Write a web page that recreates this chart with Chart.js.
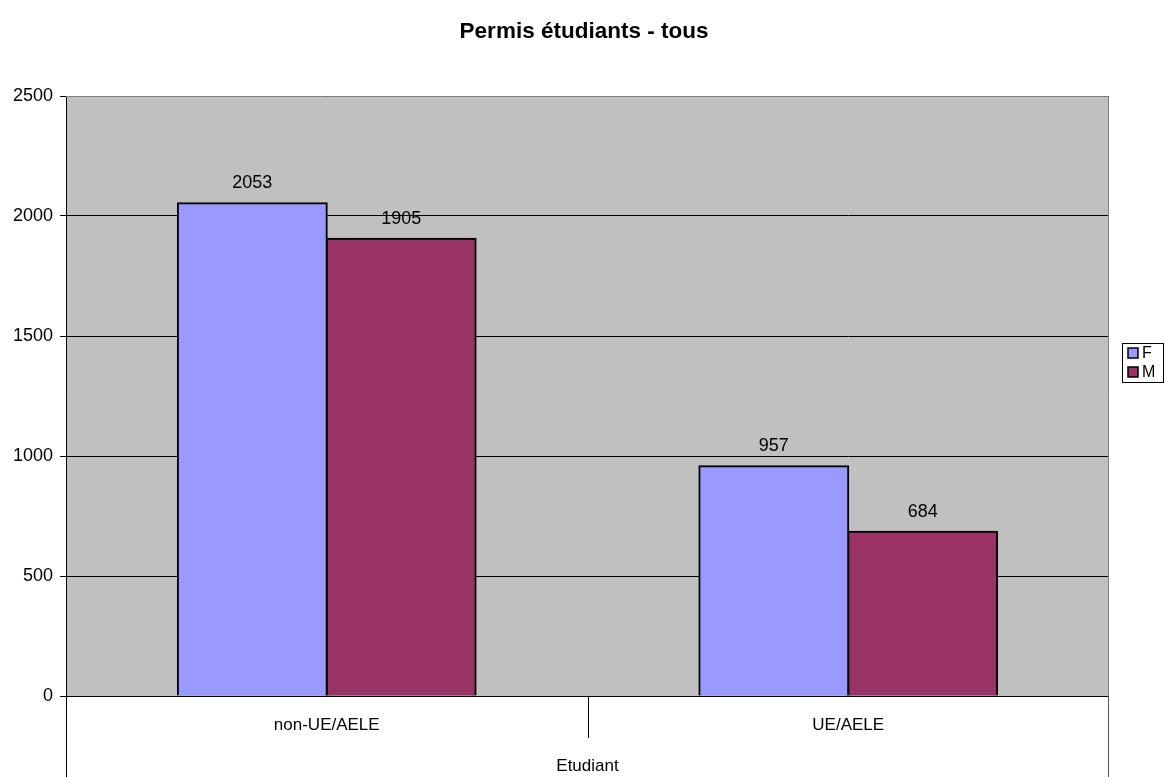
<!DOCTYPE html>
<html><head><meta charset="utf-8">
<script src="https://cdn.jsdelivr.net/npm/chart.js@4/dist/chart.umd.min.js"></script>
<style>html,body{margin:0;padding:0;background:#fff}#wrap{width:1166px;height:777px}</style>
</head><body><div id="wrap"><canvas id="c" width="1166" height="777"></canvas></div>
<script>
const title = 'Permis étudiants - tous';
const groupLabel = 'Etudiant';
const categories = ['non-UE/AELE', 'UE/AELE'];
const seriesF = [2053, 957];
const seriesM = [1905, 684];
const seriesNames = ['F', 'M'];
const yTicks = [0, 500, 1000, 1500, 2000, 2500];

const FONT = '"Liberation Sans", Arial, sans-serif';

const custom = {
  id: 'custom',
  beforeDraw(chart) {
    const {ctx, chartArea: a} = chart;
    ctx.save();
    ctx.fillStyle = '#C0C0C0';
    ctx.fillRect(a.left, a.top, a.right - a.left, a.bottom - a.top);
    ctx.restore();
  },
  afterDraw(chart) {
    const {ctx, chartArea: a} = chart;
    const x = chart.scales.x;
    ctx.save();
    ctx.strokeStyle = '#808080';
    ctx.lineWidth = 1;
    ctx.beginPath();
    ctx.moveTo(a.left, a.top + 0.5); ctx.lineTo(a.right - 0.5, a.top + 0.5);
    ctx.lineTo(a.right - 0.5, a.bottom);
    ctx.stroke();
    ctx.strokeStyle = '#000';
    ctx.beginPath();
    ctx.moveTo(a.left, a.bottom + 0.5); ctx.lineTo(a.right, a.bottom + 0.5);
    ctx.stroke();
    ctx.beginPath();
    ctx.moveTo(a.left + 0.5, a.bottom); ctx.lineTo(a.left + 0.5, 777);
    ctx.stroke();
    ctx.strokeStyle = '#555';
    ctx.beginPath();
    ctx.moveTo(a.right - 0.5, a.bottom); ctx.lineTo(a.right - 0.5, 777);
    ctx.stroke();
    ctx.strokeStyle = '#000';
    for (let i = 1; i < categories.length; i++) {
      const px = Math.round((x.getPixelForValue(i - 1) + x.getPixelForValue(i)) / 2) + 0.5;
      ctx.beginPath();
      ctx.moveTo(px, a.bottom); ctx.lineTo(px, a.bottom + 42);
      ctx.stroke();
    }
    ctx.fillStyle = '#000';
    ctx.font = '17px ' + FONT;
    ctx.textAlign = 'center';
    ctx.textBaseline = 'middle';
    categories.forEach((c, i) => ctx.fillText(c, x.getPixelForValue(i), a.bottom + 29));
    ctx.fillText(groupLabel, (a.left + a.right) / 2, 766);
    ctx.font = '18px ' + FONT;
    chart.data.datasets.forEach((ds, di) => {
      const meta = chart.getDatasetMeta(di);
      meta.data.forEach((bar, i) => {
        ctx.fillText(String(ds.data[i]), bar.x, bar.y - 20);
      });
    });
    ctx.font = 'bold 22.5px ' + FONT;
    ctx.fillText(title, 584, 32);
    const lx = 1122, ly = 343, lw = 41, lh = 39;
    ctx.strokeStyle = '#000';
    ctx.fillStyle = '#fff';
    ctx.fillRect(lx, ly, lw, lh);
    ctx.strokeRect(lx + 0.5, ly + 0.5, lw, lh);
    ctx.font = '16px ' + FONT;
    ctx.textAlign = 'left';
    chart.data.datasets.forEach((ds, di) => {
      const cy = ly + 10 + di * 19;
      ctx.fillStyle = ds.backgroundColor;
      ctx.fillRect(lx + 6, cy - 5, 10, 10);
      ctx.lineWidth = 1.5;
      ctx.strokeRect(lx + 6, cy - 5, 10, 10);
      ctx.fillStyle = '#000';
      ctx.fillText(ds.label, lx + 20, cy + 1);
    });
    ctx.restore();
  }
};

new Chart(document.getElementById('c'), {
  type: 'bar',
  data: {
    labels: categories,
    datasets: [
      {label: seriesNames[0], data: seriesF, backgroundColor: '#9999FF', borderColor: '#000', borderWidth: 2, inflateAmount: 1},
      {label: seriesNames[1], data: seriesM, backgroundColor: '#993366', borderColor: '#000', borderWidth: 2, inflateAmount: 1}
    ]
  },
  options: {
    responsive: false,
    animation: false,
    layout: {padding: {top: 96, right: 57, left: 0, bottom: 0}},
    plugins: {legend: {display: false}, title: {display: false}, tooltip: {enabled: false}},
    datasets: {bar: {barPercentage: 1, categoryPercentage: 0.571}},
    scales: {
      x: {
        grid: {display: false, drawTicks: false},
        border: {display: false},
        ticks: {display: false},
        afterFit(s) { s.height = 81; }
      },
      y: {
        min: 0, max: 2500,
        afterBuildTicks(s) { s.ticks = yTicks.map(v => ({value: v})); },
        grid: {color: '#000', lineWidth: 1, tickLength: 6, drawTicks: true},
        border: {display: true, color: '#000', width: 1},
        ticks: {color: '#000', font: {size: 18, family: FONT}, padding: 7, callback: v => String(v)},
        afterFit(s) { s.width = 66; }
      }
    }
  },
  plugins: [custom]
});
</script></body></html>
